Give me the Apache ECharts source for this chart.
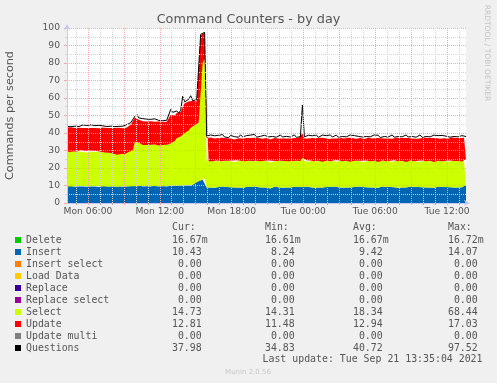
<!DOCTYPE html>
<html><head><meta charset="utf-8">
<script src="https://cdn.jsdelivr.net/npm/echarts@6/dist/echarts.min.js"></script>
<style>html,body{margin:0;padding:0;background:#f0f0f0}#c{width:497px;height:383px}</style>
</head><body><div id="c"></div>
<script>
// time in minutes since Mon 00:00, one sample every 10 minutes
const START = 255, STEP = 10;
const X_MIN = 255, X_MAX = 2255;

const insertVals = [
 9.6,9.4,9.8,9.5,9.3,9.7,9.5,9.9,9.4,9.6, 9.3,9.8,9.5,9.6,9.4,9.7,9.2,9.5,9.8,9.4,
 9.6,9.3,9.5,9.7,9.4,9.2,9.6,9.5,9.3,9.7, 9.4,9.5,9.8,9.6,
 9.8,9.6,10.0,9.7,9.5,9.9,9.6,9.8,9.5,9.7, 9.9,9.6,9.4,9.8,9.6,9.7,9.5,9.9,
 9.8,10.1,9.7,10.0,9.9,10.2,9.8,10.1,10.0,10.3, 9.9,10.4,11.2,12.0,12.6,
 12.8,13.3,14.0,
 8.9,9.1,8.8,9.3,8.7,9.0,9.2,8.8,9.4,8.9, 9.1,8.6,9.0,9.3,8.8,9.1,8.9,9.5,8.7,9.0,
 9.2,8.8,9.1,8.9,9.4,8.7,9.0,9.2,8.8,9.3, 8.9,9.0,8.3,9.1,9.3,8.8,9.0,9.4,8.7,9.1,
 8.9,9.2,8.8,9.0,9.3,8.7,9.1,8.9,9.2,8.8, 9.5,8.9,9.0,9.2,8.7,9.1,8.9,9.3,8.8,9.0,
 9.2,8.6,9.1,8.9,9.4,8.8,9.0,9.2,8.7,9.1, 8.9,9.3,8.8,9.0,9.2,8.9,9.4,8.7,9.1,8.9,
 9.0,9.3,8.8,9.1,8.9,9.2,8.7,9.0,9.4,8.8, 9.1,8.9,9.2,8.8,9.0,9.3,8.7,9.1,8.9,9.2,
 8.8,9.0,9.4,8.9,9.1,8.7,9.2,8.9,9.0,9.3, 8.8,9.1,8.9,9.2,8.7,9.0,9.3,8.8,9.1,8.9,
 9.2,8.8,9.0,9.4,8.9,9.1,8.8,9.2,9.0,9.3, 10.4
];
const selectVals = [
 20.1,19.8,20.3,19.9,20.2,19.7,20.0,20.4,19.8,20.1, 19.6,20.2,19.9,20.3,19.7,20.0,20.2,19.8,19.9,19.5,
 19.7,19.4,18.9,18.6,18.9,18.4,18.8,18.5,18.7,18.3, 19.2,19.6,20.0,20.5,
 25.2,25.0,24.4,23.8,23.6,23.9,23.5,23.7,23.8,23.4, 23.6,23.9,23.5,23.2,23.6,23.4,23.8,23.5,
 24.2,24.9,25.8,27.0,27.1,27.8,30.2,29.9,32.0,31.2, 33.1,33.6,33.3,33.0,33.4,
 66.5,66.9,68.44,
 15.2,14.8,15.4,14.6,15.1,15.3,14.7,15.0,14.5,15.2, 14.9,15.5,14.8,15.0,14.6,15.3,15.1,14.7,15.4,14.9,
 15.0,15.3,14.8,15.1,14.5,15.4,15.0,14.7,15.2,14.8, 15.1,15.3,14.9,15.0,14.6,15.2,15.0,14.8,15.3,14.9,
 15.1,14.7,15.2,15.0,14.6,15.4,14.9,15.1,16.5,15.2, 15.0,14.7,15.3,14.9,15.1,14.6,15.2,15.0,14.8,15.3,
 14.9,15.1,14.7,15.2,15.0,14.8,15.4,14.9,15.1,14.6, 15.2,15.0,14.8,15.3,14.9,15.1,14.7,15.2,15.0,14.5,
 15.3,14.9,15.1,14.8,15.2,15.0,14.7,15.3,14.9,15.1, 14.8,15.2,15.0,14.6,15.4,14.9,15.1,14.8,15.2,15.0,
 14.7,15.3,14.9,15.1,14.8,15.2,15.0,14.6,15.3,14.9, 15.1,14.8,15.2,15.0,14.7,15.3,14.9,15.1,14.8,15.2,
 15.0,14.6,15.3,14.9,15.1,14.8,15.2,15.0,14.7,15.1, 14.7
];
const updateVals = [
 13.4,13.7,13.2,13.6,13.3,13.8,13.5,13.1,13.6,13.4, 13.9,13.3,13.5,13.2,13.7,13.4,13.3,13.6,13.5,13.9,
 13.6,14.0,14.4,14.8,14.5,15.0,14.6,14.9,14.7,15.2, 14.6,14.8,15.0,14.9,
 13.8,13.5,13.2,13.4,13.6,13.0,13.5,13.2,13.4,13.6, 13.0,13.2,13.7,13.4,13.1,13.5,13.2,13.4,
 16.5,16.0,14.5,14.5,13.5,14.0,15.0,17.03,14.0,16.5, 14.0,14.5,13.0,13.0,12.5,
 16.6,16.4,15.0,
 13.1,12.8,13.3,12.9,13.0,12.7,13.2,12.9,13.4,12.8, 13.0,12.6,13.1,13.3,12.9,12.7,13.0,13.2,12.8,13.1,
 12.9,12.7,13.2,13.0,13.4,12.8,13.1,12.9,12.7,13.0, 13.2,12.8,13.1,13.0,13.3,12.7,12.9,13.2,12.8,13.1,
 12.9,13.3,12.8,13.0,13.2,12.7,13.1,12.9,14.0,12.8, 13.0,13.2,12.8,13.1,12.9,13.3,12.7,13.0,13.2,12.8,
 13.1,12.9,13.2,12.8,13.0,13.3,12.7,13.1,12.9,13.2, 12.8,13.0,13.2,12.9,13.1,12.7,13.0,13.3,12.8,13.2,
 12.9,13.1,12.8,13.0,13.2,12.9,13.3,12.7,13.1,12.9, 13.2,12.8,13.0,13.3,12.7,13.1,12.9,13.2,12.8,13.0,
 13.3,12.8,13.1,12.9,13.2,12.8,13.0,13.3,12.7,13.1, 12.9,13.2,12.8,13.0,13.2,12.9,13.1,12.8,13.2,12.9,
 13.0,13.3,12.8,13.1,12.9,13.2,12.8,13.0,13.1,12.9, 12.81
];
const questionVals = [
 43.8,44.5,43.6,44.2,43.9,44.8,43.7,44.1,44.6,43.8, 44.3,43.5,44.7,43.9,44.2,43.6,44.4,43.8,44.1,44.9,
 43.7,44.3,43.9,44.5,43.6,44.2,43.8,44.6,43.9,44.4, 44.8,45.6,45.9,46.4,
 49.5,50.8,48.6,47.9,48.2,47.5,47.9,47.3,47.8,47.5, 48.1,47.4,47.2,47.8,47.0,47.6,47.3,47.7,
 53.5,51.8,50.9,52.6,51.4,53.0,61.0,57.8,56.9,59.2, 61.3,58.5,58.4,59.0,59.6,
 96.4,97.0,97.52,
 38.2,37.6,38.9,37.8,38.4,37.5,38.7,38.0,39.1,37.7, 38.3,37.4,38.6,38.9,37.9,38.2,37.6,39.0,37.8,38.3,
 38.5,37.7,38.8,38.0,39.2,37.6,38.4,38.1,37.5,38.7, 38.9,37.8,38.3,38.0,38.8,37.6,38.2,38.9,37.7,38.4,
 38.1,38.8,37.7,38.3,38.9,37.5,38.6,37.9,56.0,37.8, 38.3,38.7,37.6,38.4,38.0,38.9,37.5,38.2,38.8,37.7,
 38.5,38.0,38.9,37.7,38.3,38.8,37.6,38.4,38.0,38.7, 37.8,38.2,38.9,37.9,38.5,37.5,38.1,38.8,37.7,38.6,
 38.0,38.4,37.8,38.2,38.9,37.9,38.7,37.4,38.5,38.0, 38.8,37.7,38.2,38.9,37.6,38.4,38.0,38.7,37.8,38.3,
 38.9,37.7,38.4,38.0,38.8,37.6,38.2,38.9,37.5,38.5, 38.0,38.7,37.8,38.3,38.8,37.9,38.5,37.7,38.6,38.0,
 38.2,38.9,37.6,38.4,38.0,38.7,37.8,38.2,38.5,37.9, 37.98
];
const deleteTimes = [255, 900, 1600, 2255];
const deleteVals = [0.0167, 0.0166, 0.0168, 0.0167];

// legend rows
const names  = ['Delete','Insert','Insert select','Load Data','Replace','Replace select','Select','Update','Update multi','Questions'];
const colors = ['#00cc00','#0066b3','#ff8000','#ffcc00','#330099','#990099','#ccff00','#ff0000','#808080','#000000'];
const curVals = ['16.67m','10.43','0.00','0.00','0.00','0.00','14.73','12.81','0.00','37.98'];
const minVals = ['16.61m','8.24','0.00','0.00','0.00','0.00','14.31','11.48','0.00','34.83'];
const avgVals = ['16.67m','9.42','0.00','0.00','0.00','0.00','18.34','12.94','0.00','40.72'];
const maxVals = ['16.72m','14.07','0.00','0.00','0.00','0.00','68.44','17.03','0.00','97.52'];

// axis ticks (minutes since Mon 00:00)
const labelTicks = [360, 720, 1080, 1440, 1800, 2160];
const labelTexts = ['Mon 06:00','Mon 12:00','Mon 18:00','Tue 00:00','Tue 06:00','Tue 12:00'];
const majorTicks = [360, 540, 720, 900, 1080, 1260, 1440, 1620, 1800, 1980, 2160];
const minorTicks = [300, 420, 480, 600, 660, 780, 840, 960, 1020, 1140, 1200, 1320, 1380, 1500, 1560,
                    1680, 1740, 1860, 1920, 2040, 2100, 2220];

const times = insertVals.map((_, i) => START + STEP * i);
const pad = s => { const m = s.endsWith('m'); const n = m ? s.slice(0, -1) : s; return n.padStart(6, ' ') + (m ? 'm' : ' '); };

const MONO = "'DejaVu Sans Mono', monospace";
const SANS = "'DejaVu Sans', sans-serif";
const TXT = '#555';
const MAJ = '#f0a8a8', MIN = '#d6d6d6', AXC = '#c8c8f4';

const chart = echarts.init(document.getElementById('c'), null, {renderer: 'canvas'});

const areaSeries = (name, vals, color) => ({
  name, type: 'line', stack: 'cmd', xAxisIndex: 0, data: vals, symbol: 'none', showSymbol: false,
  lineStyle: {width: 0}, areaStyle: {color, opacity: 1}, itemStyle: {color}, z: 2
});
const emptySeries = (name, color) => ({name, type: 'line', xAxisIndex: 0, data: [], symbol: 'none', itemStyle: {color}});

const txt = (x, y, text, font, fill, align) => ({type: 'text', x, y, silent: true,
  style: {text, font, fill, align, verticalAlign: 'middle', textAlign: align, textVerticalAlign: 'middle'}});

chart.setOption({
  animation: false,
  backgroundColor: '#f0f0f0',
  grid: {left: 67, right: 31, top: 28, bottom: 180, show: true, backgroundColor: '#ffffff', borderWidth: 0,
         containLabel: false, outerBoundsMode: 'none'},
  xAxis: [{
    // data axis: one category per 10-minute sample
    type: 'category', data: times, boundaryGap: false, show: false
  }, {
    type: 'value', min: X_MIN, max: X_MAX, z: 3, position: 'bottom',
    axisLine: {show: true, onZero: false, lineStyle: {color: AXC, width: 1}, symbol: ['none', 'arrow'], symbolSize: [5, 6], symbolOffset: [0, 4]},
    axisTick: {show: true, customValues: majorTicks, length: 2, lineStyle: {color: MAJ}},
    axisLabel: {show: true, customValues: labelTicks, margin: 4, color: TXT, fontFamily: SANS, fontSize: 9.2,
      formatter: v => { const k = labelTicks.indexOf(v); return k >= 0 ? labelTexts[k] : ''; }},
    splitLine: {show: true, lineStyle: {color: MAJ, type: [1, 1], width: 1}}
  }, {
    type: 'value', min: X_MIN, max: X_MAX, z: 3, position: 'bottom',
    axisLine: {show: false, onZero: false},
    axisTick: {show: true, customValues: minorTicks, length: 2, lineStyle: {color: '#aaaaaa'}},
    axisLabel: {show: false},
    splitLine: {show: true, lineStyle: {color: MIN, type: [1, 1], width: 1}}
  }],
  yAxis: {
    type: 'value', min: 0, max: 100, interval: 10, z: 3,
    name: 'Commands per second', nameLocation: 'middle', nameGap: 51,
    nameTextStyle: {color: TXT, fontFamily: SANS, fontSize: 11.2},
    axisLine: {show: true, lineStyle: {color: AXC, width: 1}, symbol: ['none', 'arrow'], symbolSize: [5, 6], symbolOffset: [0, 4]},
    axisTick: {show: true, length: 3, lineStyle: {color: MAJ}},
    minorTick: {show: true, splitNumber: 2, length: 2, lineStyle: {color: MIN}},
    axisLabel: {color: TXT, fontFamily: SANS, fontSize: 9.2, margin: 7},
    splitLine: {show: true, lineStyle: {color: MAJ, type: [1, 1], width: 1}},
    minorSplitLine: {show: true, lineStyle: {color: MIN, type: [1, 1], width: 1}}
  },
  legend: {
    orient: 'vertical', left: 15, top: 234, padding: 0, itemGap: 0,
    itemWidth: 6, itemHeight: 6, icon: 'rect', selectedMode: false,
    data: names,
    itemStyle: {borderWidth: 0},
    formatter: name => {
      const i = names.indexOf(name);
      return `{n|${name}}{c|${pad(curVals[i])}}{mn|${pad(minVals[i])}}{av|${pad(avgVals[i])}}{mx|${pad(maxVals[i])}}`;
    },
    textStyle: {
      color: TXT, fontFamily: MONO, fontSize: 9.9, lineHeight: 12,
      rich: {
        n:  {width: 140, fontFamily: MONO, fontSize: 9.9, color: TXT, lineHeight: 12},
        c:  {width: 93,  fontFamily: MONO, fontSize: 9.9, color: TXT, lineHeight: 12},
        mn: {width: 88,  fontFamily: MONO, fontSize: 9.9, color: TXT, lineHeight: 12},
        av: {width: 95,  fontFamily: MONO, fontSize: 9.9, color: TXT, lineHeight: 12},
        mx: {fontFamily: MONO, fontSize: 9.9, color: TXT, lineHeight: 12}
      }
    }
  },
  graphic: [
    txt(248.5, 19.5, 'Command Counters - by day', '12.8px ' + SANS, TXT, 'center'),
    Object.assign(txt(487, 53, 'RRDTOOL / TOBI OETIKER', '7.5px ' + SANS, '#c4c4c4', 'center'), {rotation: -Math.PI / 2}),
    txt(172, 227.5, 'Cur:', '9.9px ' + MONO, TXT, 'left'),
    txt(265, 227.5, 'Min:', '9.9px ' + MONO, TXT, 'left'),
    txt(353, 227.5, 'Avg:', '9.9px ' + MONO, TXT, 'left'),
    txt(448, 227.5, 'Max:', '9.9px ' + MONO, TXT, 'left'),
    txt(482.5, 359, 'Last update: Tue Sep 21 13:35:04 2021', '9.9px ' + MONO, TXT, 'right'),
    txt(248, 372.5, 'Munin 2.0.56', '7px ' + SANS, '#c8c8c8', 'center')
  ],
  series: [
    {name: 'Delete', type: 'line', xAxisIndex: 1, data: deleteTimes.map((t, i) => [t, deleteVals[i]]), symbol: 'none',
     lineStyle: {width: 0}, areaStyle: {color: '#00cc00', opacity: 1}, itemStyle: {color: '#00cc00'}, z: 1},
    areaSeries('Insert', insertVals, '#0066b3'),
    emptySeries('Insert select', '#ff8000'),
    emptySeries('Load Data', '#ffcc00'),
    emptySeries('Replace', '#330099'),
    emptySeries('Replace select', '#990099'),
    areaSeries('Select', selectVals, '#ccff00'),
    areaSeries('Update', updateVals, '#ff0000'),
    emptySeries('Update multi', '#808080'),
    {name: 'Questions', type: 'line', xAxisIndex: 0, data: questionVals, symbol: 'none', showSymbol: false,
     lineStyle: {color: '#000000', width: 1}, itemStyle: {color: '#000000'}, z: 2}
  ]
});
</script></body></html>
